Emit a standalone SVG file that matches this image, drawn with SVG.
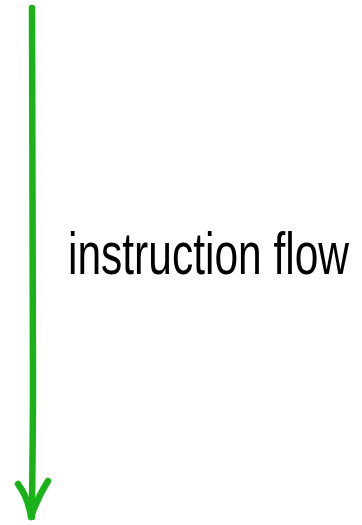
<svg xmlns="http://www.w3.org/2000/svg" width="362" height="525" viewBox="0 0 362 525">
  <style>
    .arrow { fill: none; stroke: #19b319; stroke-width: 6.5; stroke-linecap: round; stroke-linejoin: round; }
    .label { font-family: "Liberation Sans", "DejaVu Sans", sans-serif; font-size: 42.5px; fill: #000; }
  </style>
  <rect width="362" height="525" fill="#ffffff"/>
  <g id="connectors">
    <path class="arrow" d="M32,8 C32,120 33,250 33,380 C33,440 32,490 32,517"/>
    <path class="arrow" d="M18,484 C24,492 29,503 31,517 C35,505 41,492 48,481"/>
  </g>
  <g id="label-instruction-flow">
    <text class="label" transform="translate(68,274) scale(1,1.4)" x="0" y="0">instruction flow</text>
  </g>
</svg>
